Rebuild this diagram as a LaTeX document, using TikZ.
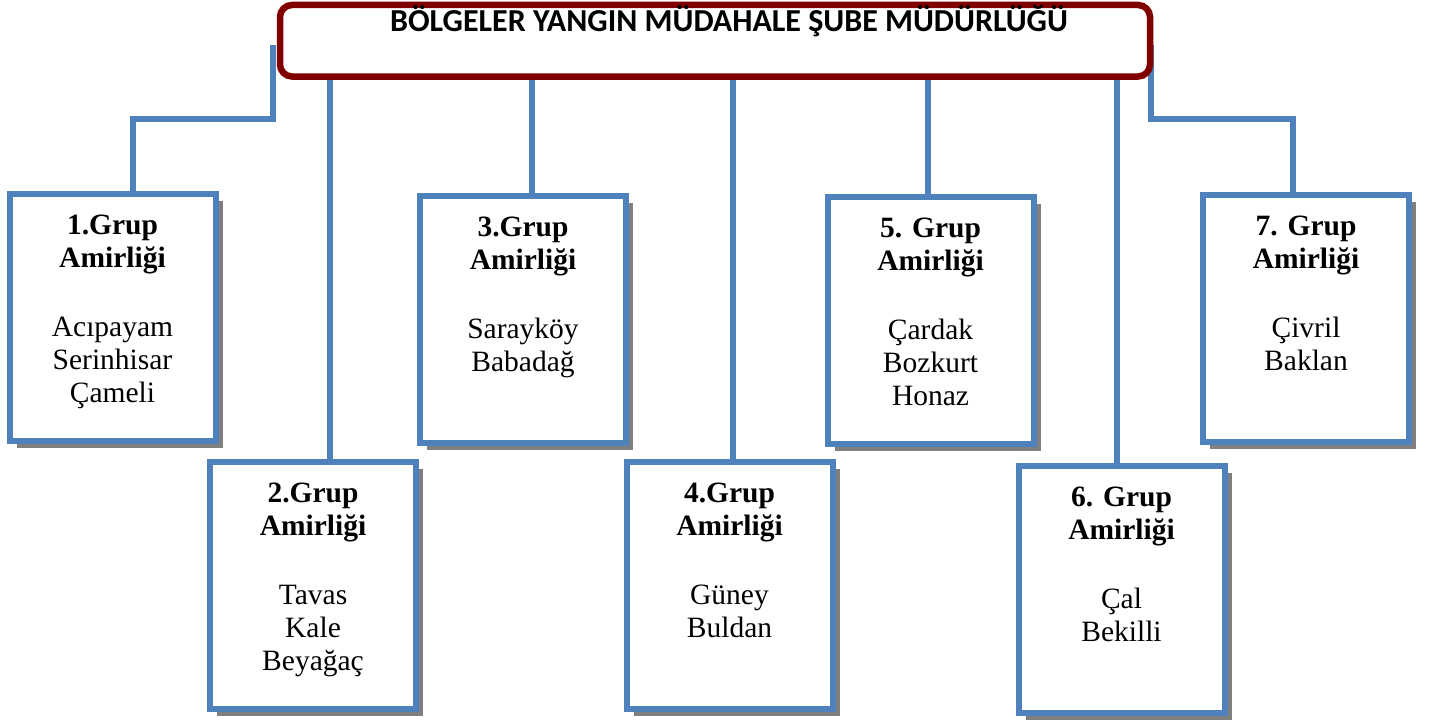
\documentclass[tikz,border=0pt]{standalone}
\usepackage{fontspec}
\setmainfont{Liberation Serif}
\newfontfamily\titlefont{Carlito}
\usetikzlibrary{positioning,shadows,backgrounds}
\definecolor{boxblue}{HTML}{4F81BD}
\definecolor{darkred}{HTML}{800000}
\definecolor{shadowgray}{HTML}{7F7F7F}

\begin{document}
\begin{tikzpicture}[x=1pt,y=-1pt,
        main box/.style={rectangle,draw=darkred,line width=6.5pt,rounded corners=12pt,
            minimum width=870pt,minimum height=71.5pt,inner sep=0pt},
        group box/.style={rectangle,draw=boxblue,fill=white,line width=6pt,
            minimum width=206pt,minimum height=247pt,inner sep=0pt,
            drop shadow={shadow xshift=7pt,shadow yshift=-7pt,fill=shadowgray,opacity=1}},
        group text/.style={align=center,inner sep=0pt,font=\fontsize{29.5}{33}\selectfont},
        link/.style={draw=boxblue,line width=6pt}]

    \useasboundingbox (0,0) rectangle (1431,725);

    % Nodes
    \node[main box] (mud) at (715,40.75) {};
    \node[anchor=base,font=\titlefont\bfseries\fontsize{32}{38}\selectfont] (title) at (729,32)
        {BÖLGELER YANGIN MÜDAHALE ŞUBE MÜDÜRLÜĞÜ};

    \node[group box] (g1) at (112.5,317.5) {};
    \node[group box] (g2) at (313,585.5) {};
    \node[group box] (g3) at (523,319.5) {};
    \node[group box] (g4) at (729.5,585) {};
    \node[group box] (g5) at (930.5,320) {};
    \node[group box] (g6) at (1121.5,589.5) {};
    \node[group box] (g7) at (1306,318.5) {};

    \node[group text, below=24pt of g1.north] (t1)
        {\textbf{1.Grup}\\\textbf{Amirliği}\\[36pt]Acıpayam\\Serinhisar\\Çameli};
    \node[group text, below=24pt of g2.north] (t2)
        {\textbf{2.Grup}\\\textbf{Amirliği}\\[36pt]Tavas\\Kale\\Beyağaç};
    \node[group text, below=24pt of g3.north] (t3)
        {\textbf{3.Grup}\\\textbf{Amirliği}\\[36pt]Sarayköy\\Babadağ};
    \node[group text, below=24pt of g4.north] (t4)
        {\textbf{4.Grup}\\\textbf{Amirliği}\\[36pt]Güney\\Buldan};
    \node[group text, below=24pt of g5.north] (t5)
        {\textbf{5. Grup}\\\textbf{Amirliği}\\[36pt]Çardak\\Bozkurt\\Honaz};
    \node[group text, below=24pt of g6.north] (t6)
        {\textbf{6. Grup}\\\textbf{Amirliği}\\[36pt]Çal\\Bekilli};
    \node[group text, below=24pt of g7.north] (t7)
        {\textbf{7. Grup}\\\textbf{Amirliği}\\[36pt]Çivril\\Baklan};

    % Edges
    \begin{scope}[on background layer]
    \draw[link] ([shift={(-4pt,-4pt)}]mud.west) -- ++(0,74) -| ([xshift=20.5pt]g1.north);
    \draw[link] ([xshift=17pt]g2.north) coordinate (c2) -- (c2 |- mud.south);
    \draw[link] ([xshift=8.7pt]g3.north) coordinate (c3) -- (c3 |- mud.south);
    \draw[link] ([xshift=3.2pt]g4.north) coordinate (c4) -- (c4 |- mud.south);
    \draw[link] ([xshift=-2.2pt]g5.north) coordinate (c5) -- (c5 |- mud.south);
    \draw[link] ([xshift=-4.8pt]g6.north) coordinate (c6) -- (c6 |- mud.south);
    \draw[link] ([shift={(-2.5pt,-4pt)}]mud.east) -- ++(0,74) -| ([xshift=-13pt]g7.north);
    \end{scope}

\end{tikzpicture}
\end{document}
